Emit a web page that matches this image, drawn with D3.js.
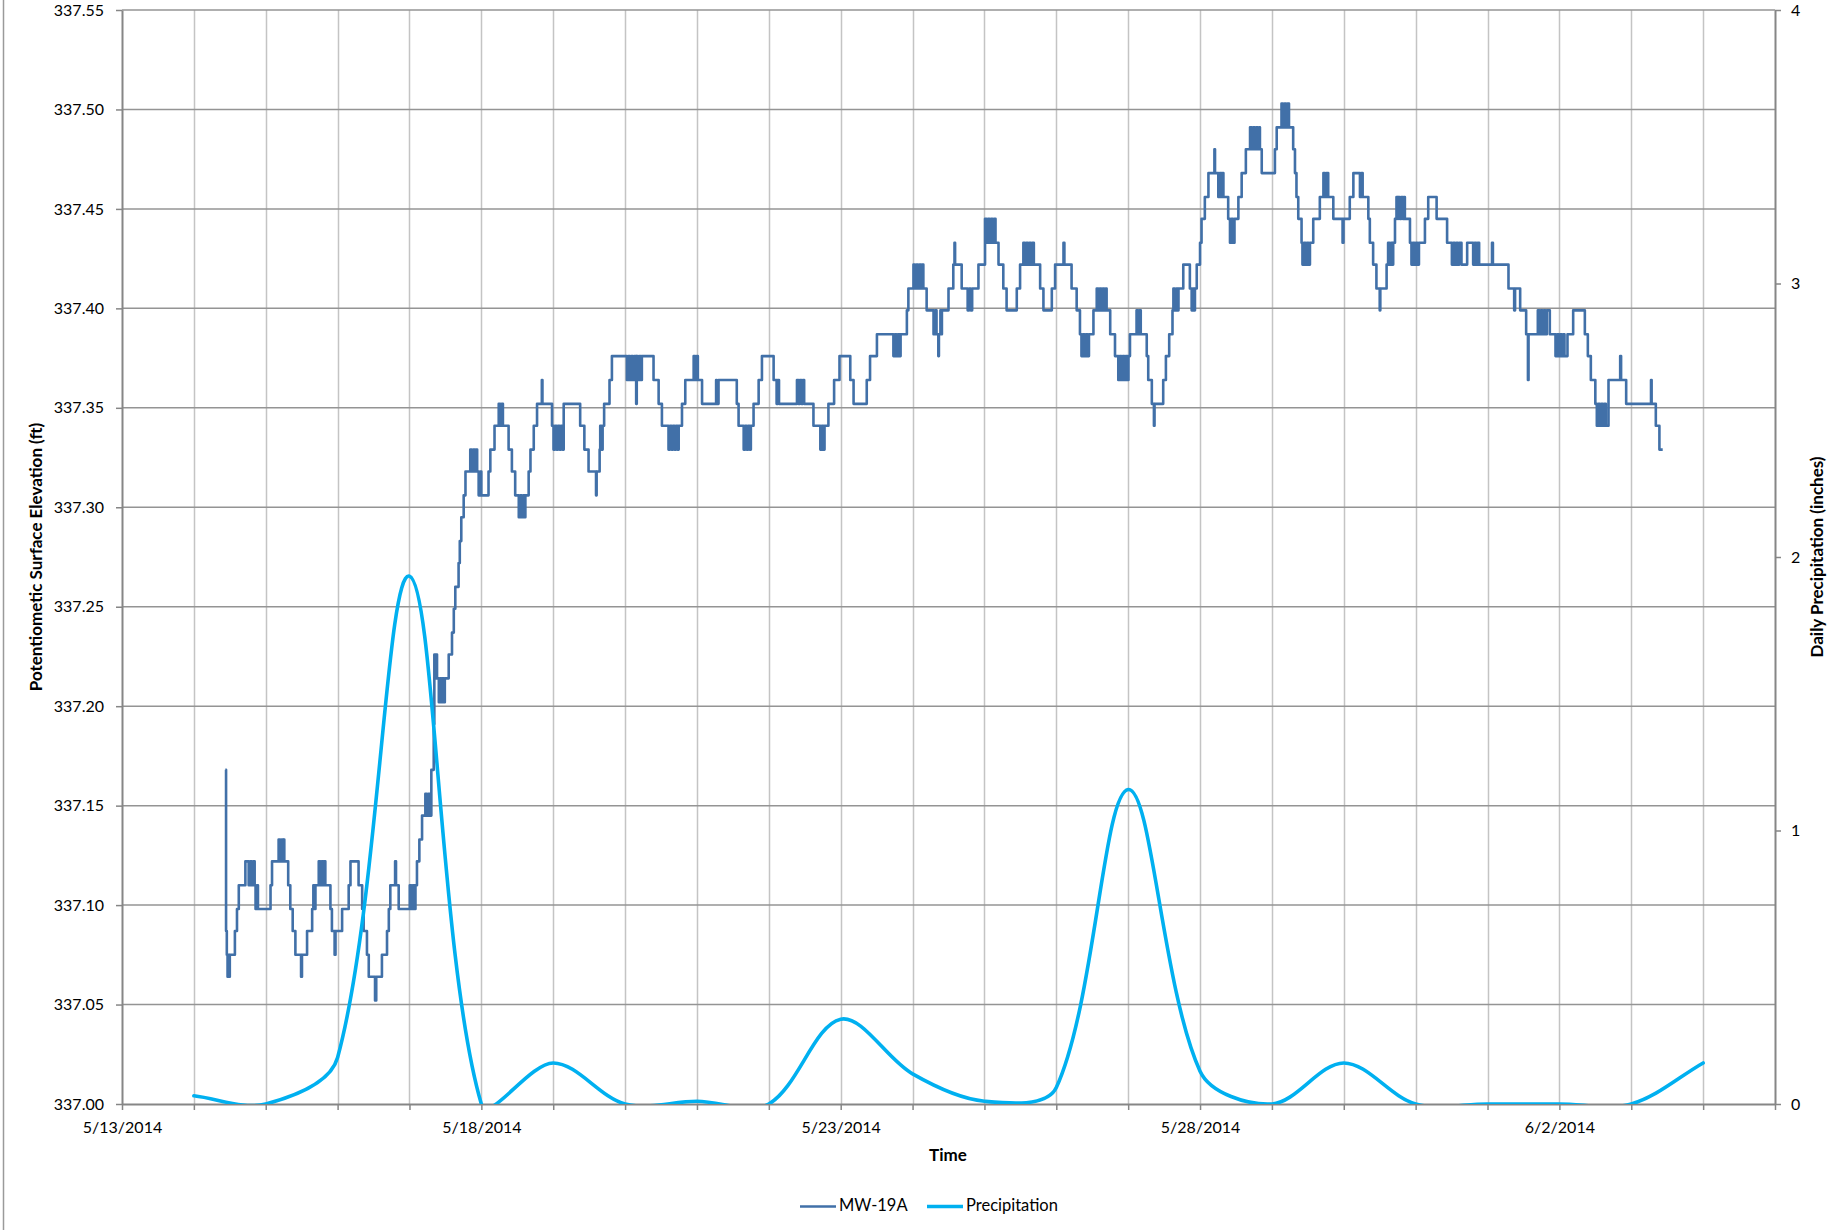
<!DOCTYPE html>
<html>
<head>
<meta charset="utf-8">
<script src="https://cdn.jsdelivr.net/npm/d3@7"></script>
<style>
  html, body { margin: 0; padding: 0; background: #ffffff; }
  svg { display: block; font-family: Lato, "Open Sans", "DejaVu Sans", sans-serif; }
</style>
</head>
<body>
<svg id="chart" width="1848" height="1230"></svg>
<script>
// ---- Data ---------------------------------------------------------------

// Axis tick labels
const elevationTicks = [337.00, 337.05, 337.10, 337.15, 337.20, 337.25, 337.30, 337.35, 337.40, 337.45, 337.50, 337.55];
const precipTicks = [0, 1, 2, 3, 4];
const dateLabels = ["5/13/2014", "5/18/2014", "5/23/2014", "5/28/2014", "6/2/2014"];
const axisStart = "5/13/2014";
const axisEnd = "6/5/2014";

// Daily precipitation (inches)
const precipDates = ["5/14/2014", "5/15/2014", "5/16/2014", "5/17/2014", "5/18/2014", "5/19/2014",
  "5/20/2014", "5/21/2014", "5/22/2014", "5/23/2014", "5/24/2014", "5/25/2014", "5/26/2014",
  "5/27/2014", "5/28/2014", "5/29/2014", "5/30/2014", "5/31/2014", "6/1/2014", "6/2/2014",
  "6/3/2014", "6/4/2014"];
const precipInches = [0.03, 0.00, 0.17, 1.93, 0.00, 0.15, 0.00, 0.01, 0.00, 0.31, 0.11, 0.01, 0.06,
  1.15, 0.12, 0.00, 0.15, 0.00, 0.00, 0.00, 0.00, 0.15];

// MW-19A transducer readings: [hours since 5/14/2014 00:00, elevation ft], held until next reading
const mwStart = "5/14/2014";
const mwWeek1 = [
  [10.5,337.168],[10.75,337.087],[11.0,337.075],[11.25,337.064],[11.5,337.075],[11.75,337.064],[12.0,337.075],
  [13.7,337.087],[14.4,337.098],[15.0,337.110],[17.2,337.122],
  [18.3,337.110],[18.8,337.122],[19.3,337.110],[19.8,337.122],[20.3,337.110],
  [20.6,337.098],[21.0,337.110],[21.4,337.098],
  [25.6,337.110],[26.1,337.122],
  [28.3,337.133],[28.8,337.122],[29.3,337.133],[29.8,337.122],[30.0,337.133],[30.2,337.122],
  [31.5,337.110],[32.2,337.098],[33.0,337.087],[33.9,337.075],
  [35.8,337.064],[36.1,337.075],
  [37.8,337.087],[39.5,337.098],[39.9,337.110],[40.3,337.098],[40.6,337.110],
  [41.7,337.122],[42.2,337.110],[42.7,337.122],[43.2,337.110],[43.6,337.122],[43.9,337.110],
  [45.6,337.098],[46.1,337.087],[47.0,337.075],[47.3,337.087],
  [49.5,337.098],[51.7,337.110],[52.3,337.122],
  [55.0,337.110],[56.2,337.098],[56.7,337.087],[57.8,337.075],[58.4,337.064],
  [60.5,337.052],[60.9,337.064],
  [62.8,337.075],[64.5,337.087],[65.1,337.098],[65.6,337.110],
  [67.2,337.122],[67.5,337.110],[68.4,337.098],
  [72.1,337.110],[72.6,337.098],[73.1,337.110],[73.6,337.098],
  [74.0,337.110],[74.5,337.122],[75.3,337.133],[76.2,337.145],
  [77.3,337.156],[77.8,337.145],[78.3,337.156],[78.8,337.145],
  [79.3,337.168],
  [80.1,337.191],[80.3,337.226],[80.6,337.214],[80.9,337.226],[81.2,337.214],
  [81.8,337.202],[82.2,337.214],[82.6,337.202],[83.0,337.214],[83.4,337.202],[83.8,337.214],
  [85.1,337.226],[86.2,337.237],[86.8,337.249],[87.3,337.260],[88.4,337.272],[88.8,337.283],
  [89.3,337.295],[90.1,337.306],[90.7,337.318],
  [92.3,337.329],[92.8,337.318],[93.3,337.329],[93.8,337.318],[94.2,337.329],[94.6,337.318],
  [95.1,337.306],[95.6,337.318],[96.0,337.306],
  [98.4,337.318],[99.0,337.329],[100.4,337.341],
  [101.8,337.352],[102.3,337.341],[102.8,337.352],[103.2,337.341],
  [105.1,337.329],[106.2,337.318],[107.3,337.306],
  [108.5,337.295],[109.0,337.306],[109.5,337.295],[110.0,337.306],[110.4,337.295],[110.7,337.306],
  [111.8,337.318],[112.4,337.329],[113.5,337.341],[114.6,337.352],
  [116.2,337.364],[116.4,337.352],
  [119.6,337.341],
  [120.1,337.329],[120.6,337.341],[121.1,337.329],[121.6,337.341],[122.1,337.329],[122.6,337.341],[123.1,337.329],
  [123.5,337.352],
  [129.0,337.341],[130.4,337.329],[131.8,337.318],
  [134.3,337.306],[134.5,337.318],
  [135.5,337.329],[135.7,337.341],[136.1,337.329],[136.5,337.341],
  [137.0,337.352],[138.8,337.364],[139.6,337.376],
  [144.6,337.364],[145.1,337.376],[145.6,337.364],[146.1,337.376],[146.6,337.364],[147.1,337.376],
  [147.7,337.352],[147.9,337.376],[148.3,337.364],[148.8,337.376],[149.2,337.364],
  [149.6,337.376],
  [153.5,337.364],[155.2,337.352],[156.3,337.341],
  [158.5,337.329],[159.0,337.341],[159.5,337.329],[160.0,337.341],[160.5,337.329],[161.0,337.341],[161.5,337.329],
  [161.9,337.341],[163.0,337.352],[164.1,337.364],
  [166.9,337.376],[167.4,337.364],[167.9,337.376],[168.3,337.364]
];
const mwWeek2 = [
  [169.7,337.352],
  [174.4,337.364],[174.6,337.352],
  [175.2,337.364],
  [181.3,337.352],[181.9,337.341],
  [183.6,337.329],[184.1,337.341],[184.6,337.329],[185.1,337.341],[185.6,337.329],[186.0,337.341],
  [186.9,337.352],[188.6,337.364],[189.7,337.376],
  [193.6,337.364],[194.6,337.352],[195.0,337.364],[195.4,337.352],
  [201.4,337.364],[201.9,337.352],[202.4,337.364],[202.9,337.352],[203.4,337.364],[203.8,337.352],
  [206.9,337.341],
  [209.2,337.329],[209.7,337.341],[210.2,337.329],[210.6,337.341],
  [211.9,337.352],[213.8,337.364],[215.6,337.376],
  [219.2,337.364],[220.3,337.352],
  [224.7,337.364],[225.8,337.376],[228.1,337.387],
  [233.6,337.376],[234.1,337.387],[234.6,337.376],[235.1,337.387],[235.6,337.376],[236.0,337.387],
  [238.1,337.399],[238.6,337.410],
  [240.3,337.422],[240.8,337.410],[241.3,337.422],[241.8,337.410],[242.3,337.422],[242.8,337.410],[243.2,337.422],
  [243.6,337.410],[244.7,337.399],
  [247.0,337.387],[247.5,337.399],[248.0,337.387],[248.6,337.376],[248.8,337.387],[249.3,337.399],[249.5,337.387],
  [249.8,337.399],
  [252.0,337.410],
  [253.6,337.422],[254.0,337.433],[254.2,337.422],
  [256.4,337.410],
  [258.4,337.399],[258.9,337.410],[259.4,337.399],[259.9,337.410],
  [262.0,337.422],
  [264.2,337.445],[264.7,337.433],[265.2,337.445],[265.7,337.433],[266.2,337.445],[266.7,337.433],[267.2,337.445],[267.7,337.433],
  [268.7,337.422],[270.3,337.410],[271.4,337.399],
  [274.8,337.410],[275.9,337.422],
  [277.0,337.433],[277.5,337.422],[278.0,337.433],[278.5,337.422],[279.0,337.433],[279.5,337.422],[280.0,337.433],[280.5,337.422],
  [282.6,337.410],[283.7,337.399],
  [286.5,337.410],[287.6,337.422],
  [290.4,337.433],[290.7,337.422],
  [293.1,337.410],[294.8,337.399],
  [295.9,337.387],[296.4,337.376],[296.9,337.387],[297.4,337.376],[297.9,337.387],[298.4,337.376],[298.9,337.387],
  [300.4,337.399],
  [301.5,337.410],[302.0,337.399],[302.5,337.410],[303.0,337.399],[303.5,337.410],[304.0,337.399],[304.5,337.410],[304.8,337.399],
  [306.0,337.387],[307.6,337.376],
  [308.7,337.364],[309.2,337.376],[309.7,337.364],[310.2,337.376],[310.7,337.364],[311.2,337.376],[311.7,337.364],
  [312.1,337.376],[312.6,337.387],
  [314.8,337.399],[315.3,337.387],[315.8,337.399],[316.2,337.387],
  [318.2,337.376],[318.7,337.364],[319.9,337.352],
  [320.6,337.341],[320.8,337.352],
  [323.7,337.364],[324.6,337.376],[325.7,337.387],[326.8,337.399],
  [327.1,337.410],[327.6,337.399],[328.1,337.410],[328.5,337.399],
  [328.8,337.410],
  [330.4,337.422],[332.6,337.410],[333.2,337.399],[333.6,337.410],[334.0,337.399],[334.3,337.410],
  [334.9,337.422]
];
const mwWeek3 = [
  [336.0,337.433],[336.5,337.445],[337.6,337.456],[338.8,337.468],
  [340.8,337.480],[341.0,337.468],
  [342.1,337.456],[342.6,337.468],[343.1,337.456],[343.5,337.468],
  [343.8,337.456],[345.4,337.445],
  [346.0,337.433],[346.5,337.445],[347.0,337.433],[347.5,337.445],
  [348.8,337.456],[349.9,337.468],[351.3,337.480],
  [352.7,337.491],[353.2,337.480],[353.7,337.491],[354.2,337.480],[354.7,337.491],[355.2,337.480],[355.7,337.491],
  [356.0,337.480],[356.6,337.468],
  [361.0,337.480],[361.6,337.491],
  [363.2,337.503],[363.7,337.491],[364.2,337.503],[364.7,337.491],[365.2,337.503],[365.7,337.491],
  [367.1,337.480],[367.7,337.468],[368.2,337.456],[368.8,337.445],[369.9,337.433],
  [370.2,337.422],[370.7,337.433],[371.2,337.422],[371.7,337.433],[372.2,337.422],[372.7,337.433],
  [373.8,337.445],[376.0,337.456],
  [377.2,337.468],[377.7,337.456],[378.2,337.468],[378.8,337.456],
  [380.5,337.445],
  [383.6,337.433],[383.9,337.445],
  [386.0,337.456],[387.2,337.468],
  [389.4,337.456],[389.9,337.468],[390.3,337.456],
  [392.2,337.445],[392.7,337.433],[393.8,337.422],[394.9,337.410],
  [396.0,337.399],[396.2,337.410],
  [398.3,337.422],[398.8,337.433],[399.3,337.422],[399.8,337.433],[400.3,337.422],
  [400.5,337.433],[401.1,337.445],[401.6,337.456],[402.0,337.445],[402.2,337.456],[402.7,337.445],
  [403.2,337.456],[403.7,337.445],[404.1,337.456],[404.4,337.445],
  [406.1,337.433],
  [406.6,337.422],[407.1,337.433],[407.6,337.422],[408.1,337.433],[408.6,337.422],[409.1,337.433],
  [411.1,337.445],[412.2,337.456],[415.0,337.445],
  [418.5,337.433],
  [420.1,337.422],[420.6,337.433],[421.1,337.422],[421.6,337.433],[422.1,337.422],[422.6,337.433],
  [423.3,337.422],[425.2,337.433],
  [427.2,337.422],[427.7,337.433],[428.2,337.422],[428.7,337.433],
  [429.2,337.422],
  [433.5,337.433],[433.8,337.422],
  [439.0,337.410],
  [440.9,337.399],[441.2,337.410],
  [442.9,337.399],[444.9,337.387],
  [445.5,337.364],[445.7,337.387],
  [448.8,337.399],[449.3,337.387],[449.8,337.399],[450.3,337.387],[450.8,337.399],[451.3,337.387],[451.8,337.399],
  [452.8,337.387],
  [454.7,337.376],[455.2,337.387],[455.7,337.376],[456.2,337.387],[456.7,337.376],[457.2,337.387],[457.7,337.376],
  [458.7,337.387],[460.6,337.399],
  [464.5,337.387],[465.5,337.376],[466.5,337.364],
  [468.0,337.352],[468.5,337.341],[469.0,337.352],[469.5,337.341],[470.0,337.352],[470.5,337.341],[471.0,337.352],[471.5,337.341],
  [472.4,337.364],
  [476.3,337.376],[476.6,337.364],
  [478.3,337.352],
  [486.6,337.364],[486.8,337.352],
  [488.2,337.341],[489.4,337.329],[490.5,337.329]
];

// ---- Layout -------------------------------------------------------------
const plot = { left: 122, right: 1775, top: 10, bottom: 1104 };
const colors = {
  well: "#4170A8",
  rain: "#00B0F0",
  gridH: "#949494",
  gridV: "#C4C4C4",
  axis: "#868686",
  text: "#000000"
};

const parseDate = d3.timeParse("%m/%d/%Y");
const svg = d3.select("#chart");

const x = d3.scaleTime()
  .domain([parseDate(axisStart), parseDate(axisEnd)])
  .range([plot.left, plot.right]);
const yLeft = d3.scaleLinear().domain([337.00, 337.55]).range([plot.bottom, plot.top]);
const yRight = d3.scaleLinear().domain([0, 4]).range([plot.bottom, plot.top]);

// chart-area border on the far left
svg.append("line")
  .attr("x1", 3.5).attr("x2", 3.5).attr("y1", 0).attr("y2", 1230)
  .attr("stroke", "#9a9a9a").attr("stroke-width", 1.5);

// ---- Gridlines ----------------------------------------------------------
const dayTicks = d3.timeDay.range(x.domain()[0], d3.timeDay.offset(x.domain()[1], 1));

svg.append("g")
  .selectAll("line")
  .data(dayTicks.slice(1, -1))
  .join("line")
  .attr("x1", d => Math.round(x(d)) + 0.5).attr("x2", d => Math.round(x(d)) + 0.5)
  .attr("y1", plot.top).attr("y2", plot.bottom)
  .attr("stroke", colors.gridV).attr("stroke-width", 1.5);

svg.append("g")
  .selectAll("line")
  .data(elevationTicks.slice(1))
  .join("line")
  .attr("x1", plot.left).attr("x2", plot.right)
  .attr("y1", d => yLeft(d)).attr("y2", d => yLeft(d))
  .attr("stroke", colors.gridH).attr("stroke-width", 1.5);

// ---- Axes ---------------------------------------------------------------
const fmt2 = d3.format(".2f");

const leftAxis = d3.axisLeft(yLeft).tickValues(elevationTicks).tickFormat(fmt2)
  .tickSizeInner(6).tickSizeOuter(0).tickPadding(12);
const gLeft = svg.append("g").attr("transform", `translate(${plot.left},0)`).call(leftAxis);

const rightAxis = d3.axisRight(yRight).tickValues(precipTicks).tickFormat(d3.format("d"))
  .tickSizeInner(6).tickSizeOuter(0).tickPadding(10);
const gRight = svg.append("g").attr("transform", `translate(${plot.right},0)`).call(rightAxis);

const labelSet = new Set(dateLabels);
const fmtDate = d => `${d.getMonth() + 1}/${d.getDate()}/${d.getFullYear()}`;
const bottomAxis = d3.axisBottom(x).tickValues(dayTicks.filter(d => d <= x.domain()[1]))
  .tickFormat(d => labelSet.has(fmtDate(d)) ? fmtDate(d) : "")
  .tickSizeInner(6).tickSizeOuter(0).tickPadding(12);
const gBottom = svg.append("g").attr("transform", `translate(0,${plot.bottom})`).call(bottomAxis);

[gLeft, gRight, gBottom].forEach(g => {
  g.select(".domain").attr("stroke", colors.axis).attr("stroke-width", 2);
  g.selectAll(".tick line").attr("stroke", colors.axis).attr("stroke-width", 1.5);
  g.selectAll(".tick text")
    .attr("fill", colors.text)
    .style("font-family", "Lato, sans-serif")
    .style("font-size", "16px");
});

// ---- Series -------------------------------------------------------------
const defs = svg.append("defs");
defs.append("clipPath").attr("id", "plot-clip")
  .append("rect")
  .attr("x", plot.left).attr("y", plot.top)
  .attr("width", plot.right - plot.left).attr("height", plot.bottom - plot.top);

const mwBase = parseDate(mwStart);
const mwSeries = mwWeek1.concat(mwWeek2, mwWeek3)
  .map(([h, v]) => ({ t: new Date(+mwBase + h * 3600e3), v }));

const rainSeries = precipDates.map((d, i) => ({ t: parseDate(d), v: precipInches[i] }));

const series = svg.append("g").attr("clip-path", "url(#plot-clip)");

series.append("path")
  .datum(mwSeries)
  .attr("fill", "none")
  .attr("stroke", colors.well)
  .attr("stroke-width", 2.6)
  .attr("stroke-linejoin", "round")
  .attr("d", d3.line().x(d => x(d.t)).y(d => yLeft(d.v)).curve(d3.curveStepAfter));

// Smoothed line: cubic Bezier segments whose control arms follow the
// neighbour-to-neighbour direction, shared out by the adjacent chord lengths.
function smoothedPath(pts) {
  const p = d3.path();
  const dist = (a, b) => Math.hypot(b[0] - a[0], b[1] - a[1]);
  p.moveTo(pts[0][0], pts[0][1]);
  for (let i = 0; i < pts.length - 1; i++) {
    const p0 = pts[i - 1] || pts[i];
    const p1 = pts[i];
    const p2 = pts[i + 1];
    const p3 = pts[i + 2] || pts[i + 1];
    const d01 = dist(p0, p1), d12 = dist(p1, p2), d23 = dist(p2, p3);
    const f1 = (d01 + d12) > 0 ? d12 / (d01 + d12) / 3 : 0;
    const f2 = (d12 + d23) > 0 ? d12 / (d12 + d23) / 3 : 0;
    const c1x = p1[0] + (p2[0] - p0[0]) * f1, c1y = p1[1] + (p2[1] - p0[1]) * f1;
    const c2x = p2[0] - (p3[0] - p1[0]) * f2, c2y = p2[1] - (p3[1] - p1[1]) * f2;
    p.bezierCurveTo(c1x, c1y, c2x, c2y, p2[0], p2[1]);
  }
  return p.toString();
}

series.append("path")
  .datum(rainSeries)
  .attr("fill", "none")
  .attr("stroke", colors.rain)
  .attr("stroke-width", 3.6)
  .attr("stroke-linejoin", "round")
  .attr("stroke-linecap", "round")
  .attr("d", d => smoothedPath(d.map(r => [x(r.t), yRight(r.v)])));

// ---- Titles -------------------------------------------------------------
svg.append("text")
  .attr("transform", `translate(38,${(plot.top + plot.bottom) / 2}) rotate(-90)`)
  .attr("text-anchor", "middle").attr("dominant-baseline", "middle")
  .style("font-family", "Lato, sans-serif").style("font-weight", "bold").style("font-size", "17px")
  .attr("fill", colors.text)
  .text("Potentiometic Surface Elevation (ft)");

svg.append("text")
  .attr("transform", `translate(1819,${(plot.top + plot.bottom) / 2}) rotate(-90)`)
  .attr("text-anchor", "middle").attr("dominant-baseline", "middle")
  .style("font-family", "Lato, sans-serif").style("font-weight", "bold").style("font-size", "17px")
  .attr("fill", colors.text)
  .text("Daily Precipitation (inches)");

svg.append("text")
  .attr("x", 948).attr("y", 1156.5)
  .attr("text-anchor", "middle").attr("dominant-baseline", "middle")
  .style("font-family", "Lato, sans-serif").style("font-weight", "bold").style("font-size", "17px")
  .attr("fill", colors.text)
  .text("Time");

// ---- Legend -------------------------------------------------------------
const legendItems = [
  { name: "MW-19A", color: colors.well, width: 2.6, x: 800 },
  { name: "Precipitation", color: colors.rain, width: 3.6, x: 927 }
];
const legend = svg.append("g").attr("transform", "translate(0,1206.5)");
legendItems.forEach(item => {
  legend.append("line")
    .attr("x1", item.x).attr("x2", item.x + 36).attr("y1", 0).attr("y2", 0)
    .attr("stroke", item.color).attr("stroke-width", item.width);
  legend.append("text")
    .attr("x", item.x + 39).attr("y", 0)
    .attr("dominant-baseline", "middle")
    .style("font-family", "Lato, sans-serif").style("font-size", "16.5px")
    .attr("fill", colors.text)
    .text(item.name);
});
</script>
</body>
</html>
